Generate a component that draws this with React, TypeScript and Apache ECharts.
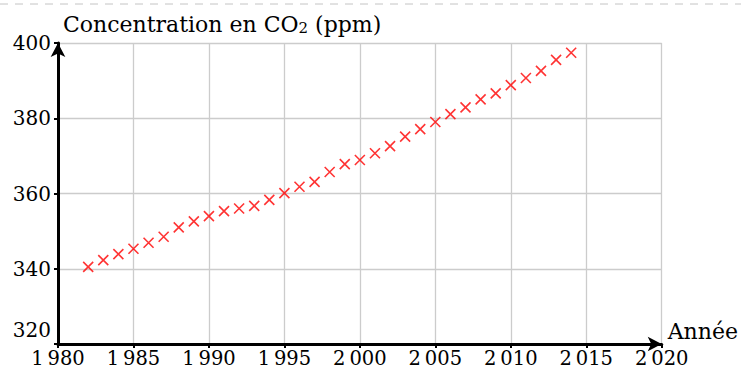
import React, { useEffect, useRef } from "react";
import * as echarts from "echarts";

const years = [
  1982, 1983, 1984, 1985, 1986, 1987, 1988, 1989, 1990, 1991, 1992, 1993, 1994,
  1995, 1996, 1997, 1998, 1999, 2000, 2001, 2002, 2003, 2004, 2005, 2006, 2007,
  2008, 2009, 2010, 2011, 2012, 2013, 2014,
];
const co2 = [
  340.5, 342.3, 343.9, 345.3, 346.9, 348.5, 351.0, 352.6, 354.0, 355.3, 356.0,
  356.7, 358.3, 360.1, 361.8, 363.1, 365.7, 367.8, 368.9, 370.7, 372.6, 375.1,
  377.1, 379.0, 381.1, 382.9, 385.0, 386.6, 388.8, 390.7, 392.6, 395.5, 397.4,
];
const xName = "Année";
const yNameParts = ["Concentration en CO", "2", " (ppm)"];
const xMin = 1980, xMax = 2020, xStep = 5;
const yMin = 320, yMax = 400, yStep = 20;

const FONT = "DejaVu Serif";

export default function App() {
  const ref = useRef<HTMLDivElement>(null);
  useEffect(() => {
    if (!ref.current) return;
    const chart = echarts.init(ref.current, undefined, { renderer: "svg" });
    const data = years.map((y, i) => [y, co2[i]]);
    chart.setOption({
      animation: false,
      grid: { left: 58, right: 79, top: 43, bottom: 28, containLabel: false },
      graphic: [
        {
          type: "line",
          shape: { x1: 0, y1: 4, x2: 741, y2: 4 },
          style: { stroke: "#c4c4c4", lineWidth: 1, lineDash: [8, 7] },
          silent: true,
        },
      ],
      xAxis: {
        type: "value",
        min: xMin,
        max: xMax,
        interval: xStep,
        name: xName,
        nameLocation: "end",
        nameGap: 6,
        nameTextStyle: {
          fontFamily: FONT,
          fontSize: 22,
          color: "#000",
          align: "left",
          verticalAlign: "bottom",
          padding: [0, 0, 2, 0],
        },
        axisLine: {
          show: true,
          lineStyle: { color: "#000", width: 3 },
          symbol: ["none", "arrow"],
          symbolSize: [11, 14],
        },
        axisTick: { show: true, length: 4, lineStyle: { color: "#000", width: 2 } },
        axisLabel: {
          fontFamily: FONT,
          fontSize: 19.5,
          lineHeight: 18,
          color: "#000",
          margin: 5,
          formatter: (v: number) => String(v).replace(/^(\d)(\d{3})$/, "$1\u2009$2"),
        },
        splitLine: { show: true, lineStyle: { color: "#cccccc", width: 1.3 } },
      },
      yAxis: {
        type: "value",
        min: yMin,
        max: yMax,
        interval: yStep,
        name: `{a|${yNameParts[0]}}{s|${yNameParts[1]}}{a|${yNameParts[2]}}`,
        nameLocation: "end",
        nameGap: 8,
        nameTextStyle: {
          align: "left",
          verticalAlign: "bottom",
          padding: [0, 0, 0, 5],
          rich: {
            a: { fontFamily: FONT, fontSize: 22, color: "#000", lineHeight: 26, verticalAlign: "bottom" },
            s: { fontFamily: FONT, fontSize: 15, color: "#000", lineHeight: 13, verticalAlign: "bottom" },
          },
        },
        axisLine: {
          show: true,
          lineStyle: { color: "#000", width: 3 },
          symbol: ["none", "arrow"],
          symbolSize: [11, 14],
        },
        axisTick: { show: true, length: 4, lineStyle: { color: "#000", width: 2 } },
        axisLabel: {
          margin: 7,
          formatter: (v: number) => (v === yMin ? `{low|${v}}` : `{n|${v}}`),
          rich: {
            n: { fontFamily: FONT, fontSize: 20, color: "#000" },
            low: { fontFamily: FONT, fontSize: 20, color: "#000", padding: [0, 0, 28, 0] },
          },
        },
        splitLine: { show: true, lineStyle: { color: "#cccccc", width: 1.3 } },
      },
      series: [
        {
          type: "scatter",
          data,
          symbol: "path://M0,0L10,10M10,0L0,10",
          symbolSize: 10,
          itemStyle: { color: "transparent", borderColor: "#ff0000", borderWidth: 1.6 },
        },
      ],
    });
    return () => chart.dispose();
  }, []);
  return (
    <div
      ref={ref}
      style={{ position: "fixed", left: 0, top: 0, width: 741, height: 372, background: "#fff" }}
    />
  );
}
